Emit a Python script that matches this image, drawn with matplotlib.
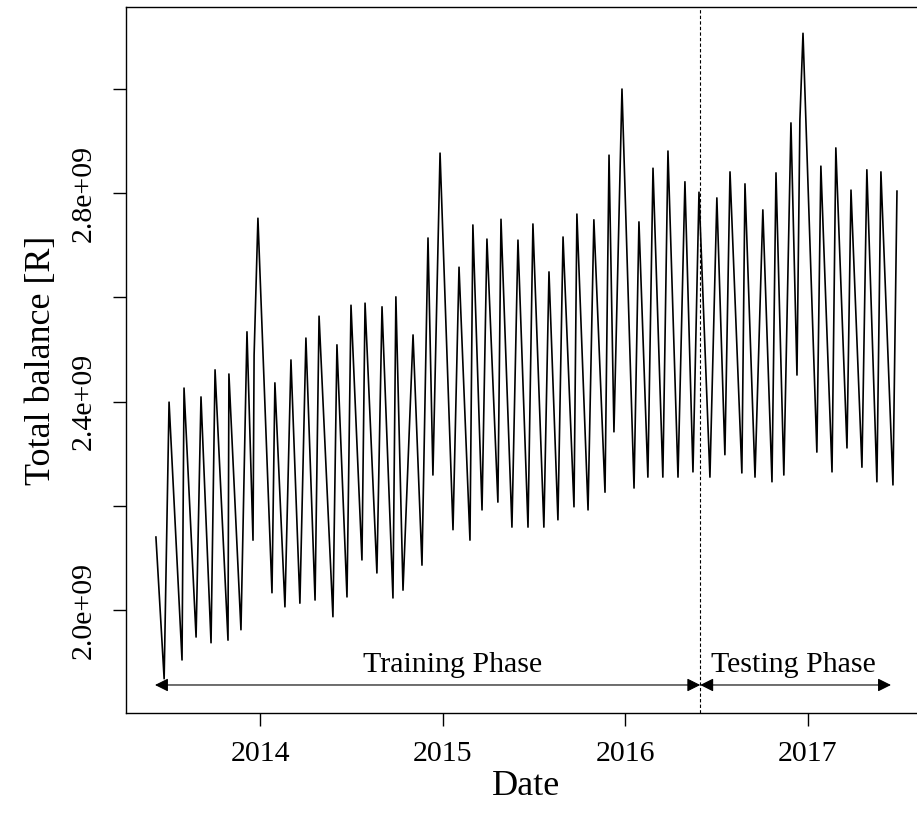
import numpy as np
import matplotlib.pyplot as plt

plt.rcParams['font.family'] = ['Liberation Serif', 'DejaVu Serif']

# turning points of the daily total balance (decimal year, balance in 1e9 R)
t_year = [
    2013.427, 2013.472, 2013.499, 2013.570, 2013.581, 2013.647, 2013.674, 2013.729,
    2013.751, 2013.822, 2013.827, 2013.893, 2013.926, 2013.959, 2013.965, 2013.986,
    2014.063, 2014.079, 2014.134, 2014.167, 2014.216, 2014.249, 2014.299, 2014.321,
    2014.397, 2014.419, 2014.474, 2014.496, 2014.556, 2014.573, 2014.638, 2014.666,
    2014.726, 2014.742, 2014.781, 2014.836, 2014.885, 2014.918, 2014.945, 2014.984,
    2015.055, 2015.088, 2015.148, 2015.164, 2015.214, 2015.241, 2015.301, 2015.318,
    2015.378, 2015.411, 2015.466, 2015.493, 2015.553, 2015.581, 2015.630, 2015.658,
    2015.718, 2015.734, 2015.795, 2015.827, 2015.888, 2015.910, 2015.937, 2015.981,
    2016.047, 2016.074, 2016.123, 2016.151, 2016.205, 2016.233, 2016.288, 2016.326,
    2016.370, 2016.403, 2016.463, 2016.501, 2016.545, 2016.573, 2016.638, 2016.655,
    2016.710, 2016.753, 2016.803, 2016.825, 2016.868, 2016.907, 2016.940, 2016.956,
    2016.973, 2017.049, 2017.071, 2017.132, 2017.153, 2017.214, 2017.236, 2017.296,
    2017.323, 2017.378, 2017.400, 2017.466, 2017.488,
]
balance = [
    2.140, 1.868, 2.399, 1.904, 2.426, 1.948, 2.409, 1.937,
    2.461, 1.942, 2.453, 1.962, 2.534, 2.134, 2.489, 2.752,
    2.033, 2.436, 2.006, 2.480, 2.013, 2.522, 2.019, 2.564,
    1.987, 2.509, 2.025, 2.585, 2.096, 2.589, 2.071, 2.582,
    2.023, 2.601, 2.038, 2.528, 2.086, 2.714, 2.259, 2.877,
    2.154, 2.658, 2.134, 2.739, 2.192, 2.712, 2.207, 2.750,
    2.159, 2.710, 2.159, 2.741, 2.159, 2.649, 2.173, 2.716,
    2.198, 2.760, 2.192, 2.749, 2.226, 2.873, 2.342, 3.000,
    2.234, 2.745, 2.255, 2.848, 2.255, 2.881, 2.255, 2.822,
    2.265, 2.802, 2.255, 2.791, 2.298, 2.841, 2.263, 2.818,
    2.255, 2.768, 2.246, 2.839, 2.259, 2.935, 2.451, 2.941,
    3.107, 2.303, 2.852, 2.265, 2.887, 2.311, 2.806, 2.274,
    2.845, 2.246, 2.841, 2.240, 2.804,
]

split_year = 2016.41
train_start = 2013.422
test_end = 2017.455
arrow_level = 1.856

year_ticks = [2014, 2015, 2016, 2017]
y_ticks = [2.0, 2.2, 2.4, 2.6, 2.8, 3.0]
y_ticklabels = ['2.0e+09', '', '2.4e+09', '', '2.8e+09', '']

fig = plt.figure(figsize=(9.17, 8.25), dpi=100)
ax = fig.add_axes([0.1374, 0.1358, 0.873, 0.8557])

ax.plot(t_year, np.array(balance) * 1e9, color='black', lw=1.2)

ax.set_xlim(2013.263, 2017.65)
ax.set_ylim(1.8023e9, 3.1574e9)

ax.set_xticks(year_ticks)
ax.set_xticklabels([str(y) for y in year_ticks])
ax.set_yticks(np.array(y_ticks) * 1e9)
ax.set_yticklabels(y_ticklabels, rotation=90, va='center')

ax.tick_params(direction='out', length=9.4, width=1.0, labelsize=21.5)
ax.tick_params(axis='x', pad=11)
ax.tick_params(axis='y', pad=12)
for s in ax.spines.values():
    s.set_linewidth(1.0)
ax.spines['right'].set_visible(False)

ax.set_xlabel('Date', fontsize=26, labelpad=2)
ax.set_ylabel('Total balance [R]', fontsize=26, labelpad=9)

# split between training and testing data
ax.axvline(split_year, color='black', lw=0.8, ls=(0, (3, 2)))

arrow = dict(arrowstyle='<|-|>', color='black', lw=0.8,
             mutation_scale=20, shrinkA=0, shrinkB=0)
ax.annotate('', xy=(train_start, arrow_level * 1e9),
            xytext=(split_year, arrow_level * 1e9), arrowprops=arrow)
ax.annotate('', xy=(split_year, arrow_level * 1e9),
            xytext=(test_end, arrow_level * 1e9), arrowprops=arrow)
ax.text(2015.055, 1.880e9, 'Training Phase', fontsize=21.5,
        ha='center', va='baseline')
ax.text(2016.919, 1.880e9, 'Testing Phase', fontsize=21.5,
        ha='center', va='baseline')

fig.savefig('out.png', dpi=100)
